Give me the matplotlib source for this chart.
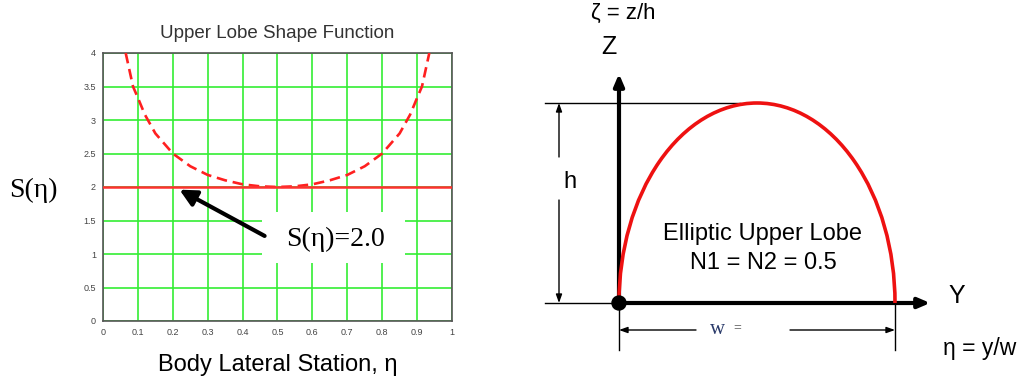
import numpy as np
import matplotlib
matplotlib.use("Agg")
import matplotlib.pyplot as plt
from matplotlib.patches import Arc, Rectangle, Circle

# upper lobe shape function values, read along the body lateral station
eta = [0.065, 0.086, 0.10, 0.12, 0.15, 0.20, 0.25, 0.30, 0.35, 0.40, 0.45, 0.50,
       0.55, 0.60, 0.65, 0.70, 0.75, 0.80, 0.85, 0.88, 0.90, 0.914, 0.935]
shape = [4.00, 3.50, 3.33, 3.08, 2.80, 2.50, 2.31, 2.18, 2.10, 2.04, 2.01, 2.00,
         2.01, 2.04, 2.10, 2.18, 2.31, 2.50, 2.80, 3.08, 3.33, 3.50, 4.00]
s_const = 2.0
x_ticks = [0, 0.1, 0.2, 0.3, 0.4, 0.5, 0.6, 0.7, 0.8, 0.9, 1]
y_ticks = [0, 0.5, 1, 1.5, 2, 2.5, 3, 3.5, 4]

W, H = 1020, 376
fig = plt.figure(figsize=(W / 100, H / 100), dpi=100)
sans = "Liberation Sans"
serif = "Liberation Serif"


def px_box(l, t, r, b):
    return [l / W, 1 - b / H, (r - l) / W, (b - t) / H]


# ---- left: shape function plot
ax = fig.add_axes(px_box(103, 53, 452, 321))
ax.set_xlim(0, 1)
ax.set_ylim(0, 4)
ax.set_xticks(x_ticks)
ax.set_yticks(y_ticks)
ax.set_xticklabels([f"{v:g}" for v in x_ticks])
ax.set_yticklabels([f"{v:g}" for v in y_ticks])
ax.tick_params(length=0, labelsize=6.5, labelcolor="#444444", pad=5)
for lab in ax.get_xticklabels() + ax.get_yticklabels():
    lab.set_family(sans)
ax.grid(True, color="#33ee33", linewidth=1.2)
ax.set_axisbelow(True)
for sp in ax.spines.values():
    sp.set_color("#555555")
    sp.set_linewidth(1.2)

ax.plot(eta, shape, color="#ff2020", linestyle=(0, (4, 2.2)), linewidth=1.9, zorder=3)
ax.axhline(s_const, color="#ff3030", linewidth=1.8, zorder=3)

ax.set_title("Upper Lobe Shape Function", family=sans, fontsize=13.5,
             color="#333333", pad=11)
ax.set_xlabel("Body Lateral Station, \u03b7", family=sans, fontsize=17, labelpad=12)
fig.text(33 / W, 1 - 190 / H, "S(\u03b7)", family=serif, fontsize=20,
         ha="center", va="center")

# label box for the constant value
ax.add_patch(Rectangle((0.456, 0.866), 0.409, 0.76, facecolor="white",
                       edgecolor="none", zorder=4))
ax.annotate("", xy=(0.212, s_const - 0.02), xytext=(0.47, 1.25),
            arrowprops=dict(arrowstyle="-|>,head_length=1.0,head_width=0.5",
                            color="black", linewidth=3), zorder=5)
ax.text(0.665, 1.22, f"S(\u03b7)={s_const:.1f}", family=serif, fontsize=20,
        ha="center", va="center", zorder=6)

# ---- right: elliptic upper lobe sketch, in pixel coordinates
dg = fig.add_axes([0, 0, 1, 1], zorder=-1)
dg.set_xlim(0, W)
dg.set_ylim(H, 0)
dg.axis("off")

ox, oy = 619, 303          # origin of the section
lobe_w, lobe_h = 276, 200  # w and h of the lobe

# coordinate axes
dg.annotate("", xy=(ox, 71), xytext=(ox, oy),
            arrowprops=dict(arrowstyle="-|>,head_length=0.7,head_width=0.3",
                            color="black", linewidth=3))
dg.annotate("", xy=(933, oy), xytext=(ox, oy),
            arrowprops=dict(arrowstyle="-|>,head_length=0.7,head_width=0.3",
                            color="black", linewidth=3))
dg.add_patch(Circle((ox, oy), 7, color="black", zorder=5))

# the lobe itself
dg.add_patch(Arc((ox + lobe_w / 2, oy), lobe_w, 2 * lobe_h, theta1=180, theta2=360,
                 color="#ee1111", linewidth=2.6, zorder=4))

# height dimension
dg.plot([545, 740], [oy - lobe_h, oy - lobe_h], color="black", linewidth=1)
dg.plot([545, ox], [oy, oy], color="black", linewidth=1)
dg.annotate("", xy=(559, oy - lobe_h), xytext=(559, 157),
            arrowprops=dict(arrowstyle="-|>,head_length=0.5,head_width=0.18",
                            color="black", linewidth=1, shrinkA=0, shrinkB=0))
dg.annotate("", xy=(559, oy), xytext=(559, 200),
            arrowprops=dict(arrowstyle="-|>,head_length=0.5,head_width=0.18",
                            color="black", linewidth=1, shrinkA=0, shrinkB=0))
dg.text(570, 182, "h", family=sans, fontsize=17, ha="center", va="center")

# width dimension
dg.plot([ox, ox], [oy, 350], color="black", linewidth=1)
dg.plot([ox + lobe_w, ox + lobe_w], [oy, 350], color="black", linewidth=1)
dg.annotate("", xy=(ox, 330), xytext=(696, 330),
            arrowprops=dict(arrowstyle="-|>,head_length=0.5,head_width=0.18",
                            color="black", linewidth=1, shrinkA=0, shrinkB=0))
dg.annotate("", xy=(ox + lobe_w, 330), xytext=(790, 330),
            arrowprops=dict(arrowstyle="-|>,head_length=0.5,head_width=0.18",
                            color="black", linewidth=1, shrinkA=0, shrinkB=0))
dg.text(718, 330, "w", family=serif, fontsize=15, color="#2a3a6a",
        ha="center", va="center")
dg.text(737, 328, "=", family=serif, fontsize=10, color="#555555",
        ha="center", va="center")

# axis names and notes
dg.text(623, 13, "\u03b6 = z/h", family=sans, fontsize=16, ha="center", va="center")
dg.text(609, 47, "Z", family=sans, fontsize=18, ha="center", va="center")
dg.text(957, 296, "Y", family=sans, fontsize=18, ha="center", va="center")
dg.text(980, 349, "\u03b7 = y/w", family=sans, fontsize=16.5, ha="center", va="center")
dg.text(763, 234, "Elliptic Upper Lobe", family=sans, fontsize=17,
        ha="center", va="center")
dg.text(763, 263, "N1 = N2 = 0.5", family=sans, fontsize=17,
        ha="center", va="center")

fig.savefig("out.png", dpi=100)
